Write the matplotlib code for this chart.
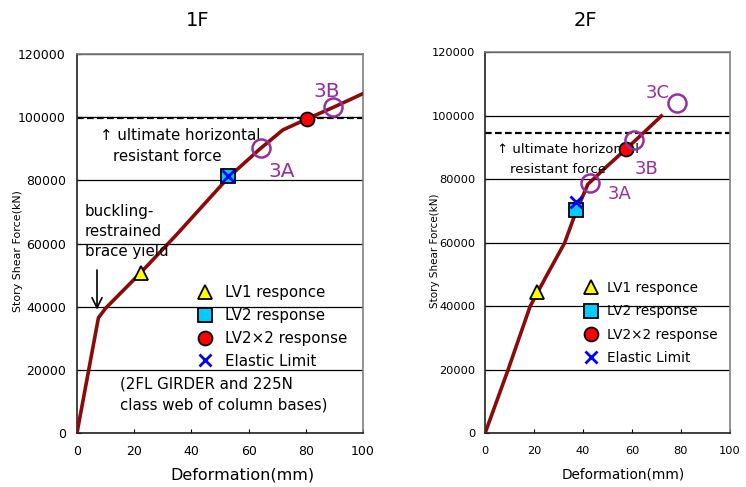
import numpy as np
import matplotlib
matplotlib.use("Agg")
import matplotlib.pyplot as plt
from matplotlib.lines import Line2D

plt.rcParams['font.family'] = ['DejaVu Sans']

# 1F data
f1_curve_x = [0, 7.5, 10, 22, 35, 53, 64, 72, 80, 90, 100]
f1_curve_y = [0, 36500, 39500, 50500, 63000, 81000, 90000, 96000, 99300, 103300, 107500]
f1_lv1 = (22.3, 50600)
f1_lv2 = (52.8, 81500)
f1_lv2x2 = (80.4, 99300)
f1_elastic = (52.8, 81500)
f1_circle_x = [64.3, 89.5]
f1_circle_y = [90300, 103300]
f1_circle_lbl = ['3A', '3B']
f1_ultimate = 99700

# 2F data
f2_curve_x = [0, 9.4, 18.4, 25, 32.5, 37, 42, 50, 57.6, 65, 72]
f2_curve_y = [0, 20000, 40000, 49500, 60000, 69500, 78500, 84300, 89600, 94900, 100000]
f2_lv1 = (21.2, 44600)
f2_lv2 = (37.1, 70400)
f2_lv2x2 = (57.6, 89600)
f2_elastic = (37.2, 73000)
f2_circle_x = [42.9, 60.8, 78.4]
f2_circle_y = [79000, 92500, 104100]
f2_circle_lbl = ['3A', '3B', '3C']
f2_ultimate = 94600

legend_labels = ['LV1 responce', 'LV2 response', 'LV2\u00d72 response', 'Elastic Limit']

curve_col = '#8B0A0A'
purple = '#952F9E'

fig = plt.figure(figsize=(7.46, 4.87), dpi=100)
ax1 = fig.add_axes([0.1032, 0.1109, 0.3834, 0.778])
ax2 = fig.add_axes([0.6501, 0.1099, 0.3284, 0.7823])


def base(ax, title, tfs, lfs, yfs, tx, ty, lx, ylx, ypad):
    ax.set_xlim(0, 100)
    ax.set_ylim(0, 120000)
    ax.set_xticks(np.arange(0, 101, 20))
    ax.set_yticks(np.arange(0, 120001, 20000))
    ax.yaxis.grid(True, color='black', lw=0.9)
    ax.set_axisbelow(True)
    ax.tick_params(direction='in', length=3, labelsize=tfs, colors='black')
    ax.tick_params(axis='x', pad=9)
    ax.tick_params(axis='y', pad=ypad)
    for s in ax.spines.values():
        s.set_color('#808080')
        s.set_linewidth(1.2)
    ax.spines['left'].set_color('#222222')
    ax.spines['bottom'].set_color('#222222')
    ax.set_xlabel('Deformation(mm)', fontsize=lfs)
    ax.xaxis.set_label_coords(lx, -0.09)
    ax.set_ylabel('Story Shear Force(kN)', fontsize=yfs)
    ax.yaxis.set_label_coords(ylx, 0.48)
    ax.text(tx, ty, title, transform=ax.transAxes, fontsize=14,
            ha='center', va='center')


def draw(ax, cx, cy, lv1, lv2, lv2x2, el, ccx, ccy, ult):
    ax.axhline(ult, color='black', ls=(0, (3, 1.5)), lw=1.6, zorder=2)
    ax.plot(cx, cy, color=curve_col, lw=2.6, zorder=3)
    ax.plot(*lv1, marker='^', ms=10, mfc='#FFFF00', mec='black', mew=1.3, ls='none', zorder=4)
    ax.plot(*lv2, marker='s', ms=10, mfc='#00CCFF', mec='black', mew=1.3, ls='none', zorder=4)
    ax.plot(*lv2x2, marker='o', ms=10, mfc='#FF0000', mec='black', mew=1.3, ls='none', zorder=4)
    ax.plot(*el, marker='x', ms=9, mec='#0000FF', mew=2, ls='none', zorder=5)
    ax.plot(ccx, ccy, marker='o', ms=13, mfc='none', mec=purple, mew=1.8, ls='none', zorder=5)


def legend(ax, anchor, fs, tpad, lsp):
    handles = [
        Line2D([], [], marker='^', ms=10, mfc='#FFFF00', mec='black', mew=1.3, ls='none'),
        Line2D([], [], marker='s', ms=10, mfc='#00CCFF', mec='black', mew=1.3, ls='none'),
        Line2D([], [], marker='o', ms=10, mfc='#FF0000', mec='black', mew=1.3, ls='none'),
        Line2D([], [], marker='x', ms=9, mec='#0000FF', mew=2, ls='none'),
    ]
    ax.legend(handles, legend_labels, loc='upper left', bbox_to_anchor=anchor,
              frameon=False, fontsize=fs, handlelength=1.0, handletextpad=tpad,
              labelspacing=lsp, borderpad=0, borderaxespad=0)


base(ax1, '1F', 9, 11.5, 7.9, 0.423, 1.09, 0.577, -0.189, 8)
draw(ax1, f1_curve_x, f1_curve_y, f1_lv1, f1_lv2, f1_lv2x2, f1_elastic,
     f1_circle_x, f1_circle_y, f1_ultimate)
legend(ax1, (0.423, 0.39), 10.8, 0.8, 0.52)
ax1.text(71.7, 82700, f1_circle_lbl[0], color=purple, fontsize=14.5, ha='center', va='center')
ax1.text(87.4, 108100, f1_circle_lbl[1], color=purple, fontsize=14.5, ha='center', va='center')
ax1.text(8, 94100, '\u2191 ultimate horizontal', fontsize=10.8, va='center')
ax1.text(12.6, 87500, 'resistant force', fontsize=10.8, va='center')
ax1.text(2.8, 63800, 'buckling-\nrestrained\nbrace yield', fontsize=10.8, va='center',
         linespacing=1.4)
ax1.annotate('', xy=(7, 38200), xytext=(7, 52500),
             arrowprops=dict(arrowstyle='->', color='black', lw=1.2, mutation_scale=18))
ax1.text(15, 12200, '(2FL GIRDER and 225N\nclass web of column bases)', fontsize=10.8,
         va='center', linespacing=1.45)

base(ax2, '2F', 8.2, 9.8, 7.5, 0.412, 1.085, 0.565, -0.184, 7)
draw(ax2, f2_curve_x, f2_curve_y, f2_lv1, f2_lv2, f2_lv2x2, f2_elastic,
     f2_circle_x, f2_circle_y, f2_ultimate)
legend(ax2, (0.406, 0.40), 9.8, 0.65, 0.68)
ax2.text(55, 75400, f2_circle_lbl[0], color=purple, fontsize=13, ha='center', va='center')
ax2.text(66, 83400, f2_circle_lbl[1], color=purple, fontsize=13, ha='center', va='center')
ax2.text(70.6, 107200, f2_circle_lbl[2], color=purple, fontsize=13, ha='center', va='center')
ax2.text(4.9, 89300, '\u2191 ultimate horizontal', fontsize=9.5, va='center')
ax2.text(10.2, 83000, 'resistant force', fontsize=9.5, va='center')

fig.savefig('out.png', dpi=100)
